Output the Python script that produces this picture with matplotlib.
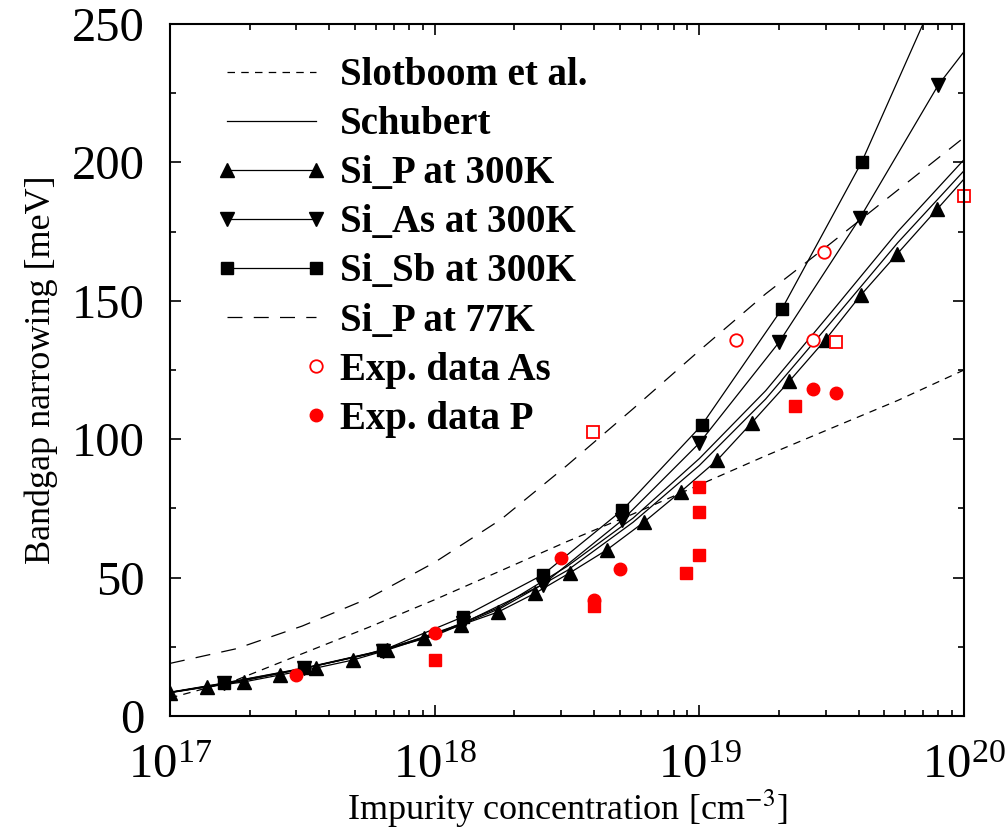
import numpy as np
import matplotlib
matplotlib.use("Agg")
import matplotlib.pyplot as plt
from matplotlib.legend_handler import HandlerLine2D

# ---- data ----
# model curves (x = impurity concentration in cm^-3, y = meV)
conc_curve = [1e17, 1.78e17, 3.16e17, 5.62e17, 1e18, 1.78e18, 3.16e18, 5.62e18,
              1e19, 1.78e19, 3.16e19, 5.62e19, 1e20]
slotboom = [6.5, 13, 22.5, 32, 42, 52.5, 63, 73, 83.5, 94, 104, 114, 125]
p77k = [19, 24.3, 32.5, 42.5, 55.5, 71, 90.5, 111, 132, 152.5, 171, 190, 209]
schubert_a = [8.5, 12.3, 17, 22.5, 29.5, 39.5, 54, 71.5, 93, 117.5, 146, 175, 201]
schubert_b = [8.5, 12.3, 17, 22.3, 29, 39, 52.5, 70, 90.5, 114.5, 142.5, 171, 197]

# Si_P at 300K (line end at 1e20 has no marker)
conc_p = [1.0e17, 1.38e17, 1.9e17, 2.6e17, 3.55e17, 4.9e17, 6.6e17, 9.1e17,
          1.26e18, 1.74e18, 2.4e18, 3.24e18, 4.47e18, 6.17e18, 8.5e18,
          1.17e19, 1.58e19, 2.19e19, 3.0e19, 4.07e19, 5.6e19, 7.9e19, 1e20]
bgn_p = [8.4, 10.5, 12.3, 14.8, 17.3, 20.2, 23.8, 28.2, 32.9, 37.6, 44.4, 51.7,
         60, 70, 81, 92.5, 106, 121, 136, 152, 167, 183, 194]

# Si_As at 300K (first and last points are line ends)
conc_as = [1e17, 1.6e17, 3.2e17, 6.4e17, 1.28e18, 2.56e18, 5.12e18, 1.0e19,
           2.0e19, 4.05e19, 8.0e19, 1e20]
bgn_as = [8.5, 11.8, 17.2, 23.6, 33.5, 47.5, 70.8, 98.6, 135, 180, 228, 240]

# Si_Sb at 300K (first and last points are line ends)
conc_sb = [1e17, 1.6e17, 3.2e17, 6.4e17, 1.28e18, 2.56e18, 5.12e18, 1.02e19,
           2.05e19, 4.1e19, 7.0e19]
bgn_sb = [8.6, 11.9, 17.3, 23.8, 35.8, 51, 74.4, 105, 147, 200, 250]

# experimental data
exp_as_circ_x = [1.38e19, 2.69e19, 2.95e19]
exp_as_circ_y = [135.8, 135.8, 167.6]
exp_as_sq_x = [3.98e18, 3.28e19, 1.0e20]
exp_as_sq_y = [102.6, 135, 188]

exp_p_circ_x = [3.0e17, 1.0e18, 3.0e18, 4.0e18, 5.0e18, 2.7e19, 3.28e19]
exp_p_circ_y = [14.8, 30.0, 57, 42, 53.1, 118, 116.8]
exp_p_sq_x = [1.0e18, 4.0e18, 8.9e18, 1.0e19, 1.0e19, 1.0e19, 2.3e19]
exp_p_sq_y = [20.2, 39.8, 51.8, 58, 73.8, 82.8, 112]

y_ticks = [0, 50, 100, 150, 200, 250]


class EndMarkerHandler(HandlerLine2D):
    # one legend marker, drawn near the right end of the handle
    def get_xdata(self, legend, xdescent, ydescent, width, height, fontsize):
        xm = -xdescent + width - self._marker_pad * fontsize
        return np.array([xm - 1, xm + 1]), np.array([xm])


plt.rcParams['font.family'] = ['Liberation Serif', 'DejaVu Serif']
plt.rcParams['mathtext.fontset'] = 'stix'

fig = plt.figure(figsize=(10.07, 8.34), dpi=100)
ax = fig.add_axes([0.1688, 0.1415, 0.7885, 0.8297])

lw = 0.9
ax.plot(conc_curve, slotboom, color='black', lw=lw, dashes=(6, 5), label='Slotboom et al.')
ax.plot(conc_curve, schubert_a, color='black', lw=lw, label='Schubert')
ax.plot(conc_curve, schubert_b, color='black', lw=lw)
ax.plot(conc_p, bgn_p, color='black', lw=lw, marker='^', ms=10,
        markevery=list(range(len(conc_p) - 1)), label='Si_P at 300K')
ax.plot(conc_as, bgn_as, color='black', lw=lw, marker='v', ms=10,
        markevery=list(range(1, len(conc_as) - 1)), label='Si_As at 300K')
ax.plot(conc_sb, bgn_sb, color='black', lw=lw, marker='s', ms=9,
        markevery=list(range(1, len(conc_sb) - 1)), label='Si_Sb at 300K')
ax.plot(conc_curve, p77k, color='black', lw=lw, dashes=(12, 9), label='Si_P at 77K')

exp_as, = ax.plot(exp_as_circ_x, exp_as_circ_y, ls='none', marker='o', ms=9,
                  mfc='white', mec='#ff0000', mew=1.3, label='Exp. data As')
ax.plot(exp_as_sq_x, exp_as_sq_y, ls='none', marker='s', ms=8.5,
        mfc='white', mec='#ff0000', mew=1.3, clip_on=False)
exp_p, = ax.plot(exp_p_circ_x, exp_p_circ_y, ls='none', marker='o', ms=9,
                 color='#ff0000', label='Exp. data P')
ax.plot(exp_p_sq_x, exp_p_sq_y, ls='none', marker='s', ms=8.5, color='#ff0000')

ax.set_xscale('log')
ax.set_xlim(1e17, 1e20)
ax.set_ylim(0, 250)
ax.set_yticks(y_ticks)
ax.set_yticks(np.arange(0, 251, 25), minor=True)

for s in ax.spines.values():
    s.set_linewidth(1.5)
ax.tick_params(which='both', direction='in', top=True, right=True, width=1.2)
ax.tick_params(which='major', length=8)
ax.tick_params(which='minor', length=4)
ax.tick_params(axis='y', which='major', labelsize=35, pad=18)
ax.tick_params(axis='x', which='major', labelsize=35, pad=20)

ax.set_xlabel('Impurity concentration [cm$^{-3}$]', fontsize=26, labelpad=0)
ax.set_ylabel('Bandgap narrowing [meV]', fontsize=26, labelpad=10)

handles, labels = ax.get_legend_handles_labels()
leg = ax.legend(handles, labels, loc='upper left', bbox_to_anchor=(0.057, 0.952),
                frameon=False, borderpad=0, borderaxespad=0, handlelength=2.9,
                handletextpad=0.3, labelspacing=0.31, numpoints=2,
                prop={'family': 'Liberation Serif', 'weight': 'bold', 'size': 28},
                handler_map={exp_as: EndMarkerHandler(numpoints=1),
                             exp_p: EndMarkerHandler(numpoints=1)})

fig.savefig('out.png', dpi=100)
